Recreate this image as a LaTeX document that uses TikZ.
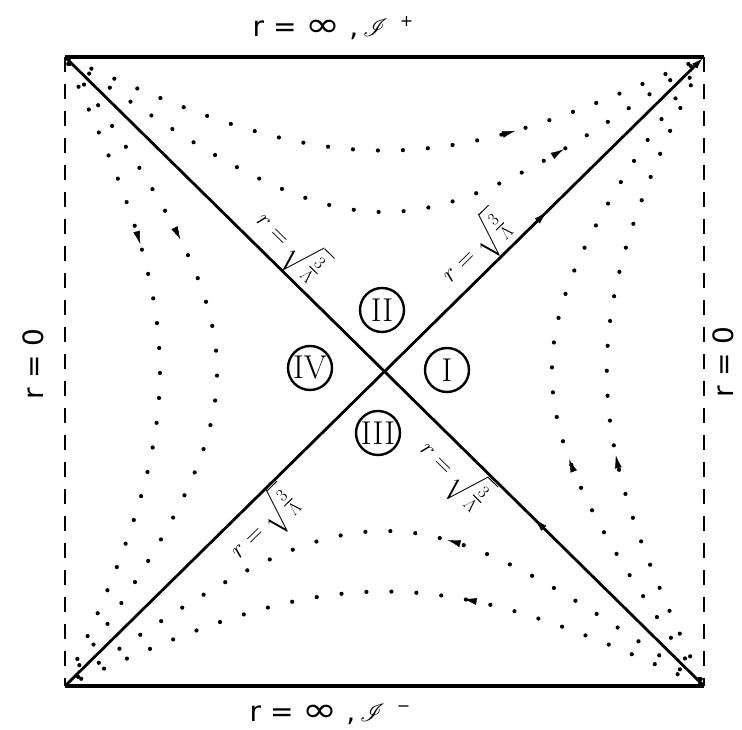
\RequirePackage{fix-cm}
\documentclass[tikz,border=0pt]{standalone}
\usepackage{amsmath}
\usepackage{mathrsfs}
\usepackage{fontspec}
\newfontfamily\labfont{DejaVu Sans}
\usetikzlibrary{arrows.meta,decorations.markings}
\tikzset{
  border/.style={line width=3.2pt},
  diag/.style={line width=2.8pt},
  dashedge/.style={line width=2.8pt, dash pattern=on 15pt off 12pt},
  tip/.tip={Latex[length=13pt,width=7pt]},
  flowline/.style={line width=4.2pt, line cap=round, dash pattern=on 0pt off 25pt,
    postaction={decorate},
    decoration={markings, mark=at position #1 with {\arrow[solid,line width=0.4pt]{tip}}}},
  numc/.style={circle, draw, line width=2.4pt, minimum size=44pt, inner sep=0pt,
    font=\fontsize{33}{33}\selectfont},
  biglab/.style={font=\labfont\fontsize{28}{32}\selectfont},
  rlab/.style={font=\fontsize{25}{28}\selectfont, inner sep=1pt}
}
\begin{document}
\begin{tikzpicture}[x=1pt,y=1pt]
\useasboundingbox (0,0) rectangle (742,730);
\coordinate (TL) at (65,673);
\coordinate (TR) at (704,673);
\coordinate (BL) at (65,44);
\coordinate (BR) at (704,44);
\coordinate (C) at (384.5,358.5);

% borders
\draw[border] (TL) -- (TR);
\draw[border] (BL) -- (BR);
\draw[dashedge] (TL) -- (BL);
\draw[dashedge] (TR) -- (BR);

% horizons
\draw[diag, postaction={decorate},
  decoration={markings, mark=at position 0.735 with {\arrowreversed[line width=0.4pt]{tip}}}]
  (TL) -- (BR);
\draw[diag, -{Latex[length=13pt,width=7pt]}, postaction={decorate},
  decoration={markings, mark=at position 0.754 with {\arrow[line width=0.4pt]{tip}}}]
  (BL) -- (TR);

% flow lines
\begin{scope}[shift={(C)}]
  % region IV
  \draw[flowline=0.3] plot[domain=88:-88, samples=89]
    ({3.55*asin(0.45*cos(\x)) - 319.5}, {3.4944*\x});
  \draw[flowline=0.3] plot[domain=88:-88, samples=89]
    ({3.55*asin(0.68*cos(\x)) - 319.5}, {3.4944*\x});
  % region I
  \draw[flowline=0.37] plot[domain=-88:88, samples=89]
    ({319.5 - 3.55*asin(0.46*cos(\x))}, {3.4944*\x});
  \draw[flowline=0.37] plot[domain=-88:88, samples=89]
    ({319.5 - 3.55*asin(0.68*cos(\x))}, {3.4944*\x});
  % region II
  \draw[flowline=0.7] plot[domain=1:179, samples=90]
    ({3.55*\x - 319.5}, {3.4944*acos(sin(\x)/2.22)});
  \draw[flowline=0.77] plot[domain=1:179, samples=90]
    ({3.55*\x - 319.5}, {3.4944*acos(sin(\x)/1.43)});
  % region III
  \draw[flowline=0.38] plot[domain=179:1, samples=90]
    ({3.55*\x - 319.5}, {-3.4944*acos(sin(\x)/2.2)});
  \draw[flowline=0.41] plot[domain=179:1, samples=90]
    ({3.55*\x - 319.5}, {-3.4944*acos(sin(\x)/1.43)});
\end{scope}

% horizon labels
\path (TL) -- (BR)
  node[rlab, pos=0.326, sloped, above] (hul) {$r=\sqrt{\tfrac{3}{\Lambda}}$}
  node[rlab, pos=0.635, sloped, below] (hlr) {$r=\sqrt{\tfrac{3}{\Lambda}}$};
\path (BL) -- (TR)
  node[rlab, pos=0.283, sloped, below] (hll) {$r=\sqrt{\tfrac{3}{\Lambda}}$}
  node[rlab, pos=0.667, sloped, above] (hur) {$r=\sqrt{\tfrac{3}{\Lambda}}$};

% region numerals
\node[numc] (nI) at (447,360) {I};
\node[numc] (nII) at (382,420) {II};
\node[numc] (nIII) at (378,297) {III};
\node[numc] (nIV) at (310,362) {IV};

% boundary labels
\node[biglab] (top) at (333,702) {r = \scalebox{1.5}[1.2]{∞} ,\,$\mathscr{I}$\hspace{12pt}\raisebox{10pt}{\fontsize{16}{16}\selectfont +}};
\node[biglab] (bot) at (330,16) {r = \scalebox{1.5}[1.2]{∞} ,\,$\mathscr{I}$\hspace{12pt}\raisebox{10pt}{\fontsize{16}{16}\selectfont −}};
\node[biglab, rotate=90] (left) at (33,366) {r = 0};
\node[biglab, rotate=90] (right) at (723,368) {r = 0};
\end{tikzpicture}
\end{document}
